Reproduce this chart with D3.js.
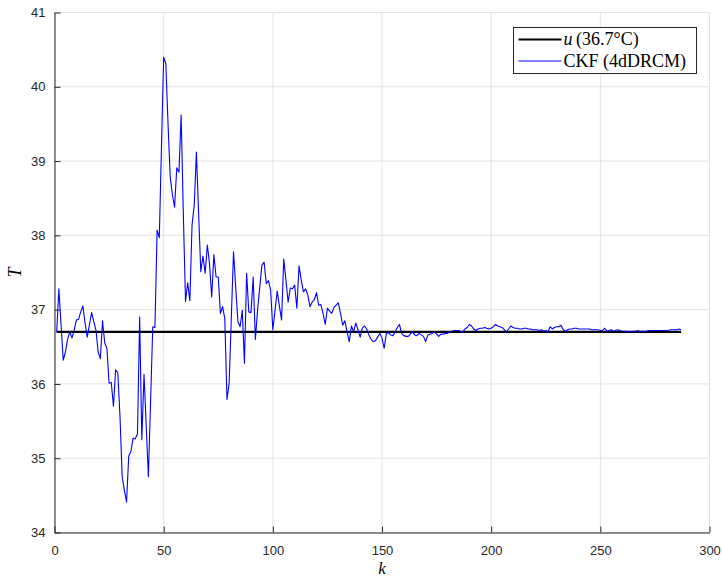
<!DOCTYPE html>
<html>
<head>
<meta charset="utf-8">
<title>CKF temperature estimate</title>
<script src="https://d3js.org/d3.v7.min.js"></script>
<style>
  body { margin: 0; background: #fff; }
</style>
</head>
<body>
<svg id="chart"></svg>
<script>

// reference value (36.7 C) and CKF estimate for k = 1..287
var refValue = 36.7;
var kStart = 1;
var ckfValues = [
  36.70, 37.28, 36.80, 36.32, 36.43, 36.60, 36.70, 36.62, 36.72, 36.86,
  36.87, 36.97, 37.05, 36.82, 36.63, 36.80, 36.96, 36.84, 36.72, 36.43,
  36.34, 36.85, 36.55, 36.48, 36.01, 36.02, 35.70, 36.19, 36.15, 35.56,
  34.75, 34.57, 34.41, 35.03, 35.09, 35.27, 35.26, 35.33, 36.90, 35.25,
  36.13, 35.45, 34.75, 35.75, 36.77, 36.76, 38.07, 37.97, 39.20, 40.40,
  40.31, 39.50, 38.79, 38.55, 38.38, 38.91, 38.85, 39.62, 38.30, 37.11,
  37.36, 37.12, 38.14, 38.41, 39.12, 38.30, 37.51, 37.72, 37.49, 37.87,
  37.62, 37.17, 37.74, 37.44, 37.44, 36.95, 37.04, 36.88, 35.79, 36.01,
  36.90, 37.78, 37.30, 36.84, 36.77, 36.99, 36.28, 37.49, 36.97, 36.96,
  37.44, 36.60, 36.99, 37.30, 37.60, 37.64, 37.35, 37.39, 37.26, 36.73,
  36.99, 37.25, 37.05, 36.86, 37.68, 37.40, 37.10, 37.29, 37.28, 37.33,
  37.02, 37.59, 37.40, 37.24, 37.28, 37.20, 37.04, 37.10, 37.13, 37.23,
  37.06, 37.07, 36.95, 36.80, 37.02, 36.98, 36.95, 37.03, 37.06, 37.09,
  36.95, 36.79, 36.85, 36.70, 36.57, 36.78, 36.70, 36.82, 36.73, 36.63,
  36.75, 36.78, 36.74, 36.66, 36.60, 36.57, 36.58, 36.63, 36.68, 36.62,
  36.48, 36.68, 36.69, 36.66, 36.65, 36.70, 36.76, 36.80, 36.68, 36.65,
  36.64, 36.64, 36.67, 36.70, 36.66, 36.65, 36.68, 36.66, 36.64, 36.57,
  36.66, 36.67, 36.68, 36.70, 36.67, 36.64, 36.67, 36.67, 36.68, 36.68,
  36.70, 36.71, 36.72, 36.72, 36.72, 36.71, 36.70, 36.74, 36.76, 36.80,
  36.78, 36.74, 36.72, 36.74, 36.75, 36.75, 36.76, 36.75, 36.74, 36.75,
  36.77, 36.80, 36.78, 36.77, 36.76, 36.73, 36.70, 36.74, 36.78, 36.76,
  36.75, 36.75, 36.74, 36.74, 36.75, 36.75, 36.74, 36.74, 36.73, 36.73,
  36.73, 36.72, 36.73, 36.71, 36.72, 36.70, 36.77, 36.74, 36.76, 36.77,
  36.77, 36.79, 36.73, 36.71, 36.73, 36.74, 36.74, 36.75, 36.75, 36.74,
  36.74, 36.74, 36.74, 36.74, 36.74, 36.73, 36.73, 36.73, 36.73, 36.72,
  36.72, 36.75, 36.71, 36.72, 36.73, 36.71, 36.72, 36.73, 36.72, 36.71,
  36.71, 36.71, 36.70, 36.70, 36.71, 36.71, 36.72, 36.71, 36.71, 36.71,
  36.71, 36.72, 36.72, 36.72, 36.72, 36.72, 36.72, 36.72, 36.72, 36.72,
  36.72, 36.73, 36.73, 36.73, 36.73, 36.74, 36.73
];

var xTicks = [0, 50, 100, 150, 200, 250, 300];
var yTicks = [34, 35, 36, 37, 38, 39, 40, 41];
var legendLabels = ["u", "CKF (4dDRCM)"];

var ckfData = ckfValues.map(function(v, i) { return {k: kStart + i, t: v}; });
var kEnd = kStart + ckfValues.length - 1;

var margin = {top: 12.5, right: 12.5, bottom: 44.5, left: 54.5},
    width = 722 - margin.left - margin.right,
    height = 577 - margin.top - margin.bottom;

var svg = d3.select("#chart")
    .attr("width", 722)
    .attr("height", 577);

var g = svg.append("g")
    .attr("transform", "translate(" + margin.left + "," + margin.top + ")");

var x = d3.scaleLinear().domain([0, 300]).range([0, width]);
var y = d3.scaleLinear().domain([34, 41]).range([height, 0]);

var axisColor = "#262626";
var gridColor = "#e3e3e3";

// grid lines
g.append("g").selectAll("line").data(xTicks).enter().append("line")
    .attr("x1", function(d) { return x(d); })
    .attr("x2", function(d) { return x(d); })
    .attr("y1", 0).attr("y2", height)
    .style("stroke", gridColor).style("stroke-width", 1);
g.append("g").selectAll("line").data(yTicks).enter().append("line")
    .attr("y1", function(d) { return y(d); })
    .attr("y2", function(d) { return y(d); })
    .attr("x1", 0).attr("x2", width)
    .style("stroke", gridColor).style("stroke-width", 1);

// axes, ticks pointing inward like matlab
var xAxis = g.append("g")
    .attr("transform", "translate(0," + height + ")")
    .call(d3.axisBottom(x).tickValues(xTicks).tickFormat(d3.format("d"))
      .tickSizeInner(-6).tickSizeOuter(0).tickPadding(13));
var yAxis = g.append("g")
    .call(d3.axisLeft(y).tickValues(yTicks).tickFormat(d3.format("d"))
      .tickSizeInner(-6).tickSizeOuter(0).tickPadding(9));

[xAxis, yAxis].forEach(function(a) {
  a.select(".domain").style("stroke", axisColor).style("stroke-width", 1);
  a.selectAll(".tick line").style("stroke", axisColor);
  a.selectAll(".tick text")
    .style("font-family", "'Liberation Sans', Arial, sans-serif")
    .style("font-size", "13px")
    .style("fill", axisColor);
});

// reference line
g.append("line")
    .attr("x1", x(kStart)).attr("x2", x(kEnd))
    .attr("y1", y(refValue)).attr("y2", y(refValue))
    .style("stroke", "#000").style("stroke-width", 2.2);

// ckf estimate
var line = d3.line()
    .x(function(d) { return x(d.k); })
    .y(function(d) { return y(d.t); });

g.append("path")
    .datum(ckfData)
    .attr("d", line)
    .style("fill", "none")
    .style("stroke", "#0000ff")
    .style("stroke-width", 1.1)
    .style("stroke-linejoin", "round");

// axis labels
svg.append("text")
    .attr("transform", "translate(21," + (margin.top + height / 2) + ")rotate(-90)")
    .attr("text-anchor", "middle")
    .style("font-family", "'Liberation Serif', serif")
    .style("font-style", "italic")
    .style("font-size", "18px")
    .text("T");
svg.append("text")
    .attr("x", margin.left + x(150))
    .attr("y", 574)
    .attr("text-anchor", "middle")
    .style("font-family", "'Liberation Serif', serif")
    .style("font-style", "italic")
    .style("font-size", "17px")
    .text("k");

// legend
var legend = svg.append("g").attr("transform", "translate(513.5,27.5)");
legend.append("rect")
    .attr("width", 183).attr("height", 46)
    .style("fill", "#fff").style("stroke", axisColor).style("stroke-width", 1);

var legendStyles = [{color: "#000", w: 2.2}, {color: "#0000ff", w: 1.1}];
legendStyles.forEach(function(s, i) {
  var ly = 12 + i * 21.5;
  legend.append("line")
      .attr("x1", 5).attr("x2", 48).attr("y1", ly).attr("y2", ly)
      .style("stroke", s.color).style("stroke-width", s.w);
  var t = legend.append("text")
      .attr("x", 50).attr("y", ly + 5.5)
      .style("font-family", "'Liberation Serif', serif")
      .style("font-size", "18px")
      .style("fill", "#000");
  if (i == 0) {
    t.append("tspan").style("font-style", "italic").text(legendLabels[0]);
    t.append("tspan").text("\u2009(36.7\u00b0C)");
  } else {
    t.text(legendLabels[1]);
  }
});

</script>
</body>
</html>
